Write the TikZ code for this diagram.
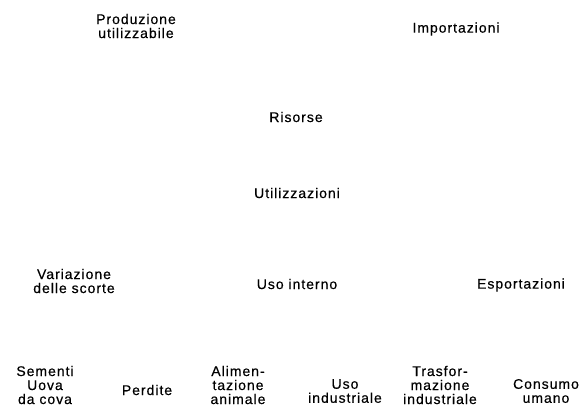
\documentclass[tikz,border=0pt]{standalone}
\usepackage{fontspec}
\setmainfont[LetterSpace=7,FakeBold=0.4]{Liberation Sans}
\begin{document}
\begin{tikzpicture}[x=1pt,y=-1pt,
  lbl/.style={inner sep=0pt, align=center, font=\fontsize{14}{14}\selectfont}]
\useasboundingbox (0,0) rectangle (588,408);
\node[lbl] (prod) at (136,26) {Produzione\\utilizzabile};
\node[lbl] (imp) at (456,29) {Importazioni};
\node[lbl] (ris) at (296,117) {Risorse};
\node[lbl] (uti) at (297,193) {Utilizzazioni};
\node[lbl] (var) at (74,281) {Variazione\\delle scorte};
\node[lbl] (usoint) at (297,284) {Uso interno};
\node[lbl] (esp) at (521,285) {Esportazioni};
\node[lbl] (sem) at (45,385) {Sementi\\Uova\\da cova};
\node[lbl] (per) at (147,390) {Perdite};
\node[lbl] (ali) at (238,385) {Alimen-\\tazione\\animale};
\node[lbl] (usoind) at (345,391) {Uso\\industriale};
\node[lbl] (tra) at (440,385) {Trasfor-\\mazione\\industriale};
\node[lbl] (con) at (546,391) {Consumo\\umano};
\end{tikzpicture}
\end{document}
